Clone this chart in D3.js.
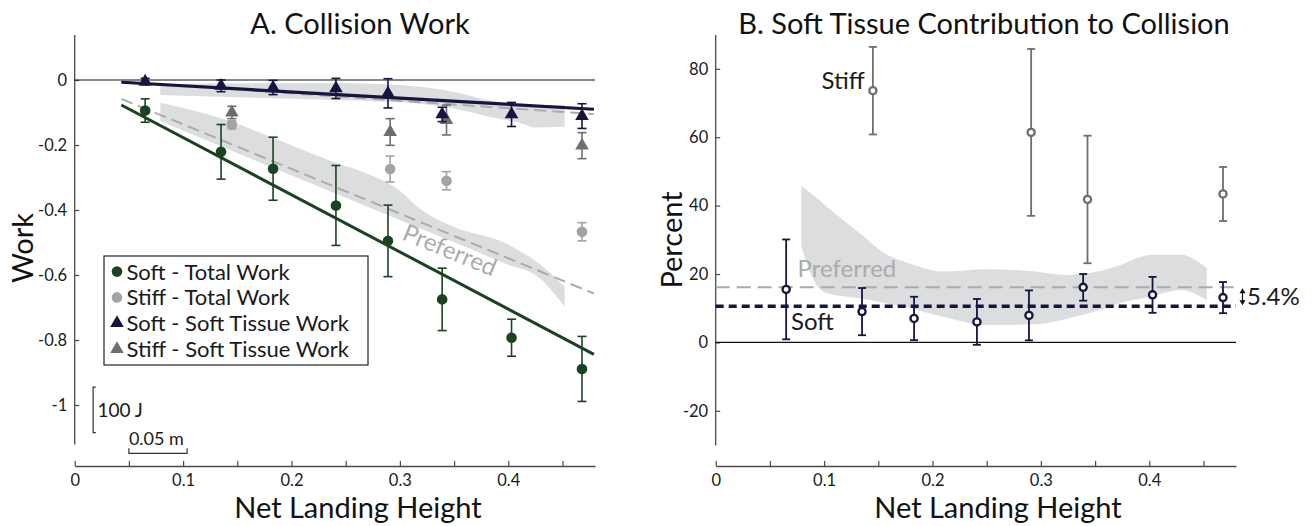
<!DOCTYPE html>
<html>
<head>
<meta charset="utf-8">
<script src="https://cdn.jsdelivr.net/npm/d3@7"></script>
<style>
    body { margin: 0; background: #fff; }
    svg { font-family: Lato, "Open Sans", sans-serif; }
</style>
</head>
<body>
<svg></svg>
<script>
// ---------------- data ----------------
// net landing heights of the soft trials (both panels)
const heights = [0.065, 0.135, 0.183, 0.241, 0.289, 0.339, 0.403, 0.468];
const stiffHeights = [0.145, 0.291, 0.343, 0.468];

// A. collision work
const softTotal = [-0.094, -0.221, -0.273, -0.386, -0.495, -0.675, -0.793, -0.889];
const softTotalErr = [0.036, 0.084, 0.097, 0.123, 0.11, 0.096, 0.057, 0.1];
const softTissue = [-0.005, -0.018, -0.023, -0.026, -0.041, -0.106, -0.106, -0.111];
const softTissueErr = [0.01, 0.018, 0.022, 0.031, 0.045, 0.022, 0.037, 0.038];
const stiffTotal = [-0.138, -0.274, -0.31, -0.467];
const stiffTotalErr = [0.012, 0.04, 0.028, 0.028];
const stiffTissue = [-0.1, -0.16, -0.123, -0.202];
const stiffTissueErr = [0.019, 0.041, 0.046, 0.04];

// fit lines (start / end)
const fitX = [0.043, 0.479];
const softTotalFit = [-0.077, -0.844];
const prefTotalFit = [-0.058, -0.657];
const softTissueFit = [-0.007, -0.09];
const prefTissueFit = [-0.005, -0.105];

// preferred bands
const totalBandX = [0.079, 0.135, 0.184, 0.234, 0.276, 0.299, 0.316, 0.349, 0.398, 0.428, 0.452];
const totalBandHi = [-0.07, -0.118, -0.179, -0.246, -0.297, -0.338, -0.39, -0.451, -0.503, -0.564, -0.636];
const totalBandLo = [-0.127, -0.204, -0.272, -0.34, -0.398, -0.43, -0.453, -0.498, -0.566, -0.607, -0.698];
const tissueBandX = [0.079, 0.184, 0.25, 0.283, 0.316, 0.349, 0.382, 0.414, 0.424, 0.452];
const tissueBandHi = [-0.013, -0.01, -0.01, -0.012, -0.02, -0.036, -0.062, -0.077, -0.077, -0.077];
const tissueBandLo = [-0.046, -0.056, -0.062, -0.066, -0.072, -0.087, -0.113, -0.135, -0.146, -0.144];

// B. soft tissue contribution (percent)
const pctSoft = [15.5, 9.0, 7.0, 6.0, 7.9, 16.1, 13.9, 13.1];
const pctSoftErr = [14.6, 6.9, 6.35, 6.7, 7.3, 3.9, 5.25, 4.55];
const pctStiff = [73.6, 61.4, 41.8, 43.4];
const pctStiffErr = [12.8, 24.4, 18.65, 7.9];
const pctPreferred = 16.1;
const pctSoftMean = 10.6;
const pctBandX = [0.079, 0.09, 0.1025, 0.133, 0.156, 0.179, 0.21, 0.25, 0.295, 0.322, 0.3525, 0.372, 0.4026, 0.429, 0.453];
const pctBandHi = [45.7, 43, 39.7, 31.9, 26, 23.1, 20.7, 21.4, 20.7, 19.7, 20.7, 22.5, 25.6, 25.6, 21.7];
const pctBandLo = [28, 18.5, 14.4, 12.9, 11.5, 10, 7.5, 5.1, 5.3, 6.8, 9.3, 11.4, 13.5, 15.3, 12.4];

const xTicks = [0, 0.05, 0.1, 0.15, 0.2, 0.25, 0.3, 0.35, 0.4, 0.45];
const yTicksA = [0, -0.2, -0.4, -0.6, -0.8, -1];
const yTicksB = [-20, 0, 20, 40, 60, 80];

const legendItems = [
    {label: "Soft - Total Work", shape: "dot", color: "#1b4322"},
    {label: "Stiff - Total Work", shape: "dot", color: "#a3a3a3"},
    {label: "Soft - Soft Tissue Work", shape: "tri", color: "#15153f"},
    {label: "Stiff - Soft Tissue Work", shape: "tri", color: "#6e6e6e"}
];

// ---------------- svg ----------------
const svgW = 1314, svgH = 526;
const green = "#1b4322", navy = "#15153f", lightGray = "#a3a3a3", midGray = "#6e6e6e";
const bandColor = "#dcdddf", prefGray = "#ababab", axisColor = "#4a4a4a";

const svg = d3.select("svg")
    .attr("width", svgW)
    .attr("height", svgH)
;

const xA = d3.scaleLinear().domain([0, 0.48]).range([74.7, 595]);
const yA = d3.scaleLinear().domain([-1.12, 0.14]).range([444, 34.5]);
const xB = d3.scaleLinear().domain([0, 0.48]).range([715.7, 1236]);
const yB = d3.scaleLinear().domain([-30, 90]).range([445, 34.6]);

const xFmt = d => (Math.round(d * 100) % 10 === 0) ? (d === 0 ? "0" : d.toFixed(1)) : "";

function styleAxis(g){
    g.select(".domain").attr("stroke", axisColor).attr("stroke-width", 1.3);
    g.selectAll(".tick line").attr("stroke", axisColor).attr("stroke-width", 1.2);
    g.selectAll(".tick text").attr("fill", "#1a1a1a").style("font-size", "16.5px").style("font-family", "Lato");
}

function drawAxes(xs, ys, yTicks, yFmt){
    svg.append("g")
        .attr("transform", `translate(0,466)`)
        .call(d3.axisBottom(xs).tickValues(xTicks).tickFormat(xFmt).tickSizeInner(-5).tickSizeOuter(0).tickPadding(8))
        .call(styleAxis)
    ;
    svg.append("g")
        .attr("transform", `translate(${xs(0) - 0.5},0)`)
        .call(d3.axisLeft(ys).tickValues(yTicks).tickFormat(yFmt).tickSizeInner(-5).tickSizeOuter(0).tickPadding(7))
        .call(styleAxis)
    ;
    // zero line
    svg.append("line")
        .attr("x1", xs(0)).attr("x2", xs(0.48))
        .attr("y1", ys(0)).attr("y2", ys(0))
        .attr("stroke", "#111").attr("stroke-width", 1.2)
    ;
}

function band(xs, ys, bx, hi, lo){
    const rows = bx.map((x, i) => ({x: x, hi: hi[i], lo: lo[i]}));
    svg.append("path")
        .datum(rows)
        .attr("d", d3.area().curve(d3.curveMonotoneX)
            .x(d => xs(d.x)).y0(d => ys(d.lo)).y1(d => ys(d.hi)))
        .attr("fill", bandColor)
    ;
}

function fitLine(xs, ys, yv, color, width, dash){
    svg.append("line")
        .attr("x1", xs(fitX[0])).attr("x2", xs(fitX[1]))
        .attr("y1", ys(yv[0])).attr("y2", ys(yv[1]))
        .attr("stroke", color).attr("stroke-width", width)
        .attr("stroke-dasharray", dash)
    ;
}

function errorBars(xs, ys, xv, yv, ev, color, cap, width){
    const rows = xv.map((x, i) => ({x: x, y: yv[i], e: ev[i]}));
    const g = svg.append("g").attr("stroke", color).attr("stroke-width", width);
    g.selectAll(".v").data(rows).enter().append("line")
        .attr("x1", d => xs(d.x)).attr("x2", d => xs(d.x))
        .attr("y1", d => ys(d.y + d.e)).attr("y2", d => ys(d.y - d.e));
    g.selectAll(".t").data(rows).enter().append("line")
        .attr("x1", d => xs(d.x) - cap).attr("x2", d => xs(d.x) + cap)
        .attr("y1", d => ys(d.y + d.e)).attr("y2", d => ys(d.y + d.e));
    g.selectAll(".b").data(rows).enter().append("line")
        .attr("x1", d => xs(d.x) - cap).attr("x2", d => xs(d.x) + cap)
        .attr("y1", d => ys(d.y - d.e)).attr("y2", d => ys(d.y - d.e));
}

function dots(xs, ys, xv, yv, color, r){
    svg.append("g").selectAll("circle")
        .data(xv.map((x, i) => ({x: x, y: yv[i]})))
        .enter().append("circle")
        .attr("cx", d => xs(d.x)).attr("cy", d => ys(d.y))
        .attr("r", r).attr("fill", color)
    ;
}

function triangles(xs, ys, xv, yv, color){
    svg.append("g").selectAll("path")
        .data(xv.map((x, i) => ({x: x, y: yv[i]})))
        .enter().append("path")
        .attr("d", d3.symbol(d3.symbolTriangle, 80))
        .attr("transform", d => `translate(${xs(d.x)},${ys(d.y)})`)
        .attr("fill", color)
    ;
}

function rings(xs, ys, xv, yv, color){
    svg.append("g").selectAll("circle")
        .data(xv.map((x, i) => ({x: x, y: yv[i]})))
        .enter().append("circle")
        .attr("cx", d => xs(d.x)).attr("cy", d => ys(d.y))
        .attr("r", 3.6).attr("fill", "#fff")
        .attr("stroke", color).attr("stroke-width", 2.3)
    ;
}

// ----- Panel A -----
band(xA, yA, totalBandX, totalBandHi, totalBandLo);
band(xA, yA, tissueBandX, tissueBandHi, tissueBandLo);
drawAxes(xA, yA, yTicksA, d => String(+d.toFixed(1)));

fitLine(xA, yA, prefTotalFit, prefGray, 2, "12,6");
fitLine(xA, yA, prefTissueFit, prefGray, 2, "12,6");
fitLine(xA, yA, softTotalFit, green, 3, null);
fitLine(xA, yA, softTissueFit, navy, 3.2, null);

errorBars(xA, yA, stiffHeights, stiffTotal, stiffTotalErr, lightGray, 4.5, 1.6);
dots(xA, yA, stiffHeights, stiffTotal, lightGray, 5.3);
errorBars(xA, yA, stiffHeights, stiffTissue, stiffTissueErr, midGray, 4.5, 1.6);
triangles(xA, yA, stiffHeights, stiffTissue, midGray);
errorBars(xA, yA, heights, softTotal, softTotalErr, green, 4.5, 1.6);
dots(xA, yA, heights, softTotal, green, 5.3);
errorBars(xA, yA, heights, softTissue, softTissueErr, navy, 4.5, 1.6);
triangles(xA, yA, heights, softTissue, navy);

// "Preferred" label along the dashed line
const prefLine = d3.scaleLinear().domain(fitX).range(prefTotalFit);
const prefAngle = Math.atan2(yA(prefTotalFit[1]) - yA(prefTotalFit[0]), xA(fitX[1]) - xA(fitX[0])) * 180 / Math.PI;
svg.append("text")
    .attr("transform", `translate(${xA(0.301)},${yA(prefLine(0.301)) + 25}) rotate(${prefAngle})`)
    .attr("fill", prefGray)
    .style("font-size", "24px")
    .text("Preferred")
;

// legend
const legend = svg.append("g");
legend.append("rect")
    .attr("x", 104).attr("y", 256).attr("width", 264).attr("height", 109)
    .attr("fill", "#fff").attr("stroke", "#222").attr("stroke-width", 1.2)
;
legendItems.forEach((item, i) => {
    const cy = 271.6 + i * 25.8;
    if (item.shape === "dot"){
        legend.append("circle").attr("cx", 117).attr("cy", cy).attr("r", 5.3).attr("fill", item.color);
    } else {
        legend.append("path").attr("d", d3.symbol(d3.symbolTriangle, 80))
            .attr("transform", `translate(117,${cy})`).attr("fill", item.color);
    }
    legend.append("text")
        .attr("x", 126.5).attr("y", cy).attr("dy", "0.36em")
        .attr("fill", "#1a1a1a")
        .style("font-size", "22px")
        .text(item.label);
});

// scale bars
const scaleG = svg.append("g").attr("stroke", "#333").attr("stroke-width", 1.2).attr("fill", "none");
scaleG.append("path")
    .attr("d", `M${xA(0.0195)},${yA(-0.945)} H${xA(0.017)} V${yA(-1.085)} H${xA(0.0195)}`);
scaleG.append("path")
    .attr("d", `M${xA(0.05)},${yA(-1.133)} V${yA(-1.149)} H${xA(0.1037)} V${yA(-1.133)}`);
svg.append("text").attr("x", 97.5).attr("y", yA(-1.015)).attr("dy", "0.36em")
    .attr("fill", "#1a1a1a").style("font-size", "19px").text("100 J");
svg.append("text").attr("x", xA(0.05)).attr("y", 445)
    .attr("fill", "#1a1a1a").style("font-size", "18px").text("0.05 m");

// ----- Panel B -----
band(xB, yB, pctBandX, pctBandHi, pctBandLo);
drawAxes(xB, yB, yTicksB, d => String(d));

svg.append("line")
    .attr("x1", xB(0)).attr("x2", xB(0.48))
    .attr("y1", yB(pctPreferred)).attr("y2", yB(pctPreferred))
    .attr("stroke", prefGray).attr("stroke-width", 2).attr("stroke-dasharray", "14,7")
;
svg.append("line")
    .attr("x1", xB(0)).attr("x2", xB(0.48))
    .attr("y1", yB(pctSoftMean)).attr("y2", yB(pctSoftMean))
    .attr("stroke", navy).attr("stroke-width", 3.5).attr("stroke-dasharray", "8,5")
;

errorBars(xB, yB, stiffHeights, pctStiff, pctStiffErr, midGray, 4, 1.8);
rings(xB, yB, stiffHeights, pctStiff, midGray);
errorBars(xB, yB, heights, pctSoft, pctSoftErr, navy, 4, 1.8);
rings(xB, yB, heights, pctSoft, navy);

svg.append("text").attr("x", 821.5).attr("y", 88.5)
    .attr("fill", "#1a1a1a").style("font-size", "24px").text("Stiff");
svg.append("text").attr("x", 791).attr("y", 330)
    .attr("fill", "#1a1a1a").style("font-size", "24px").text("Soft");
svg.append("text").attr("x", 797.5).attr("y", 277)
    .attr("fill", prefGray).style("font-size", "24px").text("Preferred");

// 5.4% difference marker
const ax = 1242.5, aTop = yB(pctPreferred) + 1, aBot = yB(pctSoftMean) - 1;
svg.append("line").attr("x1", ax).attr("x2", ax).attr("y1", aTop + 3).attr("y2", aBot - 3)
    .attr("stroke", "#111").attr("stroke-width", 1.2);
svg.append("path").attr("d", `M${ax},${aTop} l-3,5 h6 Z M${ax},${aBot} l-3,-5 h6 Z`).attr("fill", "#111");
svg.append("text").attr("x", 1247).attr("y", (aTop + aBot) / 2).attr("dy", "0.36em")
    .attr("fill", "#1a1a1a").style("font-size", "24px").text("5.4%");

// ----- titles and axis labels -----
const titleStyle = {size: "29px", color: "#111"};
svg.append("text").attr("x", 360).attr("y", 34).attr("text-anchor", "middle")
    .attr("fill", titleStyle.color).style("font-size", titleStyle.size).text("A. Collision Work");
svg.append("text").attr("x", 984).attr("y", 34).attr("text-anchor", "middle")
    .attr("fill", titleStyle.color).style("font-size", titleStyle.size).text("B. Soft Tissue Contribution to Collision");
svg.append("text").attr("x", 358).attr("y", 518).attr("text-anchor", "middle")
    .attr("fill", titleStyle.color).style("font-size", "29px").text("Net Landing Height");
svg.append("text").attr("x", 998).attr("y", 518).attr("text-anchor", "middle")
    .attr("fill", titleStyle.color).style("font-size", "29px").text("Net Landing Height");
svg.append("text").attr("transform", "translate(33,248) rotate(-90)").attr("text-anchor", "middle")
    .attr("fill", titleStyle.color).style("font-size", "29px").text("Work");
svg.append("text").attr("transform", "translate(682,240) rotate(-90)").attr("text-anchor", "middle")
    .attr("fill", titleStyle.color).style("font-size", "29px").text("Percent");
</script>
</body>
</html>
